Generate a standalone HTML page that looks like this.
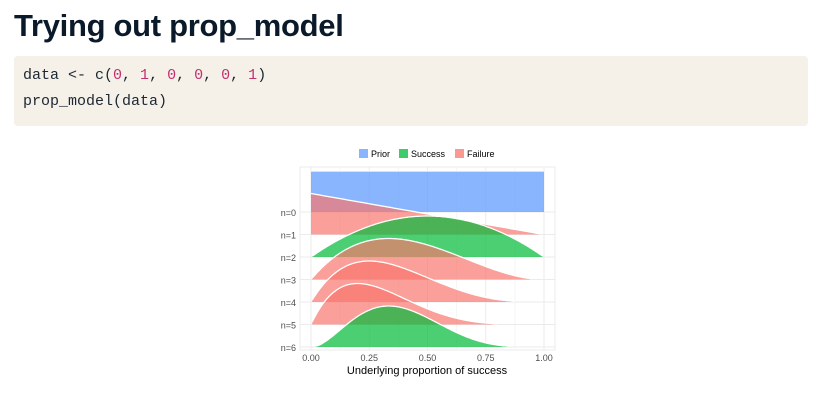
<!DOCTYPE html>
<html><head><meta charset="utf-8"><style>
body{margin:0;width:822px;height:407px;background:#fff;overflow:hidden;font-family:"Liberation Sans",sans-serif}
h1{position:absolute;left:14px;top:8px;margin:0;font-size:31px;font-weight:bold;color:#0a1a2a;letter-spacing:-0.3px}
.code{position:absolute;left:14px;top:56px;width:794px;height:70px;background:#f5f1e9;border-radius:4px}
.code pre{margin:0;position:absolute;left:9px;font-family:"Liberation Mono",monospace;font-size:15px;color:#1b2733}
.n{color:#c2306f}
svg{position:absolute;left:0;top:0}
</style></head><body>
<h1>Trying out prop_model</h1>
<div class="code">
<pre style="top:11px">data &lt;- c(<span class="n">0</span>, <span class="n">1</span>, <span class="n">0</span>, <span class="n">0</span>, <span class="n">0</span>, <span class="n">1</span>)</pre>
<pre style="top:37px">prop_model(data)</pre>
</div>
<svg id="chart" width="822" height="407"></svg>
<script>
const rowLabels=["n=0","n=1","n=2","n=3","n=4","n=5","n=6"];
const alphaParams=[1,1,2,2,2,2,3];
const betaParams=[1,2,2,3,4,5,5];
const rowTypes=["Prior","Failure","Success","Failure","Failure","Failure","Success"];
const xTicks=[0,0.25,0.5,0.75,1];
const xTickLabels=["0.00","0.25","0.50","0.75","1.00"];
const legendItems=["Prior","Success","Failure"];

const NS="http://www.w3.org/2000/svg";
const svg=document.getElementById('chart');
const X0=311,X1=544,Y0=212,DY=22.5,H=41;
const xs=v=>X0+v*(X1-X0);
const ys=i=>Y0+i*DY;
const col={Prior:"#619CFF",Success:"#00BA38",Failure:"#F8766D"};
function mk(t,a){const e=document.createElementNS(NS,t);for(const k in a)e.setAttribute(k,a[k]);svg.appendChild(e);return e;}
let p=mk('rect',{x:300,y:167,width:255,height:183,fill:'#fff',stroke:'#ebebeb'});


for(let v=0.125;v<1;v+=0.25){let g=mk('line',{x1:xs(v),x2:xs(v),y1:167,y2:350,stroke:'#f5f5f5'});}
xTicks.forEach((v,i)=>{let g=mk('line',{x1:xs(v),x2:xs(v),y1:167,y2:350,stroke:'#ebebeb'});
let t=mk('text',{x:xs(v),y:361,'font-size':9,fill:'#4d4d4d','text-anchor':'middle'});t.textContent=xTickLabels[i];});
rowLabels.forEach((l,i)=>{let g=mk('line',{x1:300,x2:555,y1:ys(i),y2:ys(i),stroke:'#ebebeb'});
let t=mk('text',{x:296,y:ys(i)+4,'font-size':9,fill:'#4d4d4d','text-anchor':'end'});t.textContent=l;});
function dens(a,b,x){return Math.pow(x,a-1)*Math.pow(1-x,b-1);}
rowLabels.forEach((l,i)=>{
 const a=alphaParams[i],b=betaParams[i];let m=0;const N=200,vals=[];
 for(let k=0;k<=N;k++){const v=dens(a,b,k/N);vals.push(v);if(v>m)m=v;}
 const pts=[];for(let k=0;k<=N;k++){if(vals[k]/m>=0.015)pts.push([xs(k/N),ys(i)-H*vals[k]/m]);}
 const top=pts.map((q,j)=>(j?'L':'M')+q[0].toFixed(1)+','+q[1].toFixed(1)).join('');
 const area=top+'L'+pts[pts.length-1][0].toFixed(1)+','+ys(i)+'L'+pts[0][0].toFixed(1)+','+ys(i)+'Z';
 let f=mk('path',{d:area,fill:col[rowTypes[i]],'fill-opacity':rowTypes[i]=="Prior"?0.75:0.7});
 
 let s=mk('path',{d:top,fill:'none',stroke:'#fff','stroke-width':1.3});
 
});
let xt=mk('text',{x:427,y:374,'font-size':11,fill:'#000','text-anchor':'middle'});xt.textContent="Underlying proportion of success";

const lx=[359,399,455];
legendItems.forEach((l,i)=>{let r=mk('rect',{x:lx[i],y:149,width:9,height:9,fill:col[l],'fill-opacity':0.75});
let t=mk('text',{x:lx[i]+12,y:157,'font-size':9,fill:'#000'});t.textContent=l;});
</script>
</body></html>
